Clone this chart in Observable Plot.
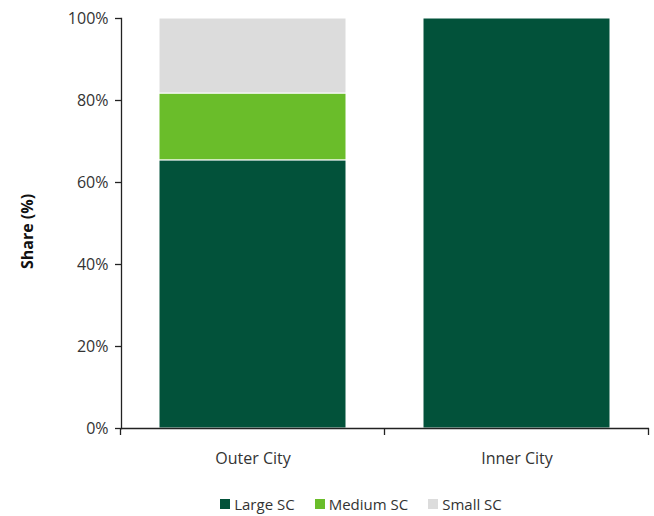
<!DOCTYPE html>
<html>
<head>
<meta charset="utf-8">
<script src="https://cdn.jsdelivr.net/npm/d3@7"></script>
<script src="https://cdn.jsdelivr.net/npm/@observablehq/plot@0.6"></script>
<style>
  body { margin: 0; background: #fff; font-family: "Open Sans", sans-serif; }
  #chart svg { display: block; }
  .legend { display: flex; justify-content: center; gap: 20px; margin-left: 68px; margin-top: 22px; font-size: 15px; color: #333; }
  .legend span.item { display: flex; align-items: center; gap: 4px; }
  .legend span.sw { width: 10px; height: 10px; display: inline-block; }
</style>
</head>
<body>
<div id="chart"></div>
<script>
const categories = ["Outer City", "Inner City"];
const segments = ["Large SC", "Medium SC", "Small SC"];
const outerCity = [65.4, 16.3, 18.3];
const innerCity = [100, 0, 0];
const colors = ["#02523A", "#6ABD2A", "#DCDCDC"];
const yTicks = [0, 20, 40, 60, 80, 100];
const yLabel = "Share (%)";

const rows = [];
segments.forEach((s, i) => {
  rows.push({city: categories[0], seg: s, value: outerCity[i]});
  rows.push({city: categories[1], seg: s, value: innerCity[i]});
});

const bandEdges = (index, scales, values, dimensions) => {
  const g = d3.create("svg:g");
  const bw = scales.x.bandwidth ? scales.x.bandwidth() : 0;
  const step = scales.x.step ? scales.x.step() : bw;
  const y0 = dimensions.height - dimensions.marginBottom;
  const xs = [];
  categories.forEach(c => xs.push(scales.x(c) + bw / 2 - step / 2));
  xs.push(scales.x(categories[categories.length - 1]) + bw / 2 + step / 2);
  xs.forEach(x => g.append("line")
    .attr("x1", x).attr("x2", x).attr("y1", y0).attr("y2", y0 + 7)
    .attr("stroke", "#222").attr("stroke-width", 1.3));
  return g.node();
};

const plot = Plot.plot({
  width: 654,
  height: 472,
  marginLeft: 121,
  marginRight: 5,
  marginTop: 18,
  marginBottom: 44,
  style: {fontFamily: "Open Sans, sans-serif", fontSize: "16px", color: "#333"},
  x: {domain: categories, paddingInner: 0.29, paddingOuter: 0.145, axis: null},
  y: {domain: [0, 100], ticks: yTicks, axis: null},
  color: {domain: segments, range: colors},
  marks: [
    Plot.barY(rows, Plot.stackY({x: "city", y: "value", fill: "seg", order: segments, stroke: "white", strokeWidth: 1})),
    Plot.axisY(yTicks, {tickSize: 6, tickPadding: 7, tickFormat: d => d + "%", label: null, fontSize: 16, stroke: "#222", strokeWidth: 1.3}),
    Plot.axisX({tickSize: 0, tickPadding: 24, label: null, fontSize: 16}),
    Plot.text([yLabel], {text: d => d, frameAnchor: "left", textAnchor: "middle", rotate: -90, dx: -94, dy: 8, fontWeight: "bold", fontSize: 16, fill: "#111"}),
    Plot.frame({anchor: "left", stroke: "#222", strokeWidth: 1.3}),
    Plot.ruleY([0], {stroke: "#222", strokeWidth: 1.3}),
    bandEdges
  ]
});
document.getElementById("chart").appendChild(plot);

const legend = document.createElement("div");
legend.className = "legend";
segments.forEach((s, i) => {
  const item = document.createElement("span");
  item.className = "item";
  const sw = document.createElement("span");
  sw.className = "sw";
  sw.style.background = colors[i];
  item.appendChild(sw);
  item.appendChild(document.createTextNode(s));
  legend.appendChild(item);
});
document.getElementById("chart").appendChild(legend);
</script>
</body>
</html>
